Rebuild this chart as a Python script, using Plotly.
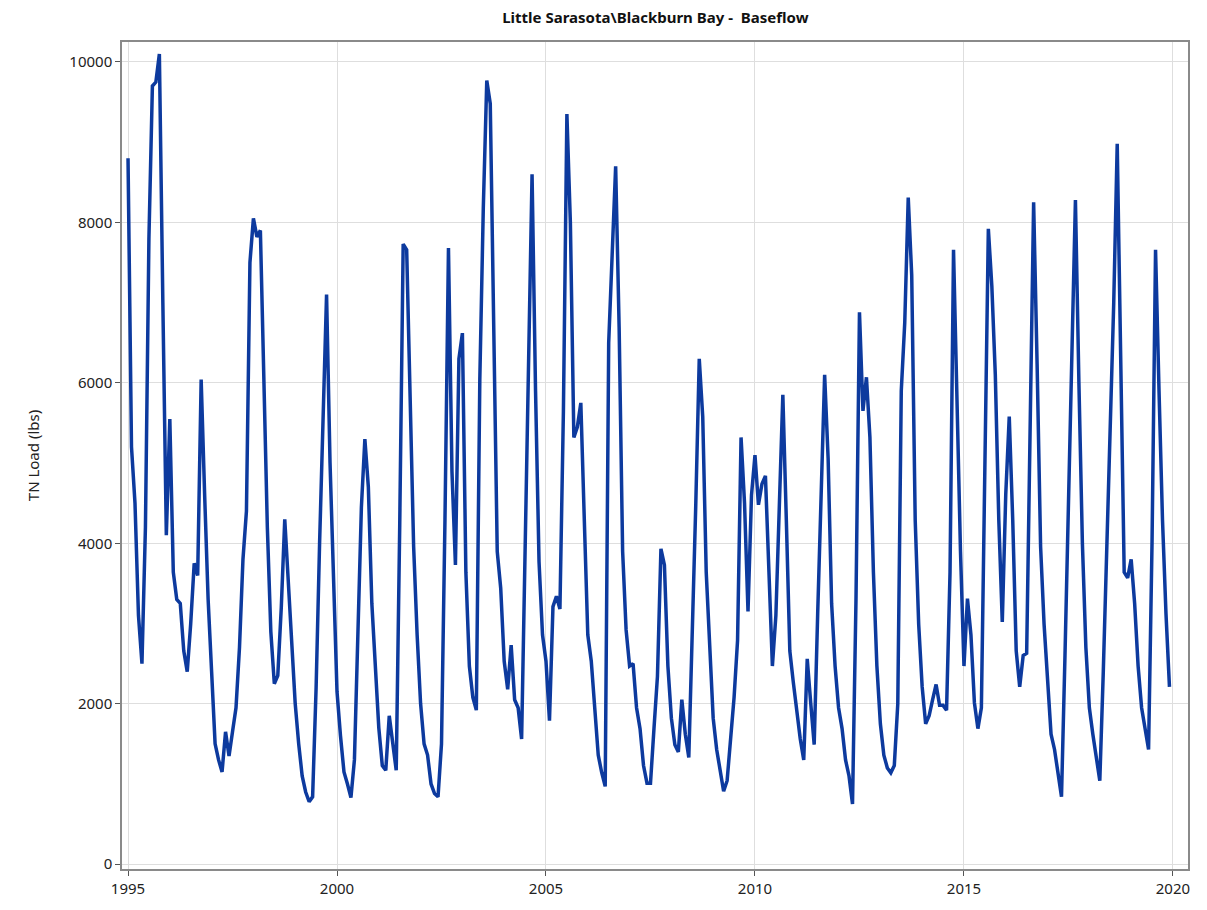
import plotly.graph_objects as go

years = list(range(1995, 2020))
tn_load = [
    # 1995
    8800, 5200, 4500, 3100, 2500, 4200, 7800, 9700, 9750, 10100, 7000, 4100,
    # 1996
    5550, 3640, 3300, 3250, 2660, 2400, 3000, 3750, 3600, 6040, 4600, 3300,
    # 1997
    2400, 1500, 1300, 1150, 1650, 1350, 1650, 1950, 2700, 3800, 4400, 7500,
    # 1998
    8050, 7820, 7900, 5800, 4200, 2900, 2250, 2350, 3200, 4300, 3500, 2600,
    # 1999
    2000, 1500, 1100, 900, 780, 840, 2200, 4000, 5600, 7100, 5000, 3500,
    # 2000
    2150, 1600, 1150, 1000, 830, 1300, 3000, 4450, 5300, 4700, 3250, 2450,
    # 2001
    1700, 1230, 1170, 1850, 1490, 1170, 4200, 7730, 7660, 5900, 3960, 2860,
    # 2002
    2000, 1500, 1360, 1000, 880, 840, 1500, 4300, 7680, 4900, 3730, 6300,
    # 2003
    6620, 3640, 2470, 2080, 1920, 6040, 8180, 9770, 9480, 6690, 3900, 3440,
    # 2004
    2530, 2180, 2730, 2050, 1950, 1560, 3770, 6170, 8600, 5900, 3770, 2860,
    # 2005
    2530, 1790, 3210, 3340, 3180, 5650, 9350, 8000, 5320, 5450, 5750, 4290,
    # 2006
    2860, 2530, 1950, 1360, 1140, 970, 6500, 7600, 8700, 6690, 3900, 2920,
    # 2007
    2470, 2500, 1950, 1690, 1230, 1010, 1010, 1690, 2340, 3930, 3730, 2470,
    # 2008
    1820, 1490, 1400, 2050, 1620, 1330, 2790, 4480, 6300, 5580, 3640, 2660,
    # 2009
    1820, 1430, 1170, 910, 1040, 1560, 2080, 2790, 5320, 4500, 3150, 4600,
    # 2010
    5100, 4480, 4740, 4840, 3640, 2470, 3100, 4400, 5850, 4290, 2660, 2270,
    # 2011
    1880, 1560, 1300, 2560, 2010, 1490, 3120, 4800, 6100, 5060, 3250, 2470,
    # 2012
    1950, 1690, 1300, 1100, 750, 3300, 6880, 5650, 6070, 5320, 3640, 2470,
    # 2013
    1750, 1360, 1200, 1140, 1230, 2000, 5900, 6750, 8310, 7340, 4290, 2990,
    # 2014
    2210, 1750, 1850, 2050, 2240, 1980, 1980, 1920, 3640, 7660, 5580, 3900,
    # 2015
    2470, 3310, 2860, 2010, 1690, 1950, 4940, 7920, 7210, 6100, 4290, 3020,
    # 2016
    4610, 5580, 4290, 2660, 2210, 2600, 2630, 5500, 8250, 6230, 3960, 2990,
    # 2017
    2340, 1620, 1430, 1140, 840, 2600, 4500, 6200, 8280, 6000, 4000, 2700,
    # 2018
    1950, 1620, 1360, 1040, 2400, 4000, 5300, 7000, 8980, 6000, 3640, 3570,
    # 2019
    3800, 3250, 2470, 1950, 1690, 1430, 4020, 7660, 5900, 4290, 3120, 2210,
]
x_ticks = [1995, 2000, 2005, 2010, 2015, 2020]
y_ticks = [0, 2000, 4000, 6000, 8000, 10000]

x_time = [y + m / 12.0 for y in years for m in range(12)]

fig = go.Figure()
fig.add_trace(go.Scatter(
    x=x_time, y=tn_load, mode="lines",
    line=dict(color="#0d3a9e", width=3.5),
    showlegend=False,
))

axis_common = dict(
    showline=True, linecolor="#8a8a8a", linewidth=1.5, mirror=True,
    showgrid=True, gridcolor="#dedede", gridwidth=1,
    ticks="outside", ticklen=5, tickcolor="#555555",
    tickfont=dict(size=15, color="#222222", family="Noto Sans"),
    zeroline=False,
)

fig.update_layout(
    width=1207, height=910,
    margin=dict(l=122, r=19, t=42, b=38),
    paper_bgcolor="white", plot_bgcolor="white",
    title=dict(text="Little Sarasota\\Blackburn Bay -  Baseflow",
               x=0.543, xanchor="center", y=0.98, yanchor="middle",
               font=dict(size=15, color="#111111", family="Noto Sans", weight="bold")),
    xaxis=dict(range=[1994.856, 2020.36], tickvals=x_ticks,
               ticktext=[str(t) for t in x_ticks], **axis_common),
    yaxis=dict(range=[-60, 10249], tickvals=y_ticks,
               ticktext=[str(t) for t in y_ticks],
               title=dict(text="TN Load (lbs)", standoff=26,
                          font=dict(size=15, color="#222222", family="Noto Sans")),
               **axis_common),
)

fig.write_html("out.html")
